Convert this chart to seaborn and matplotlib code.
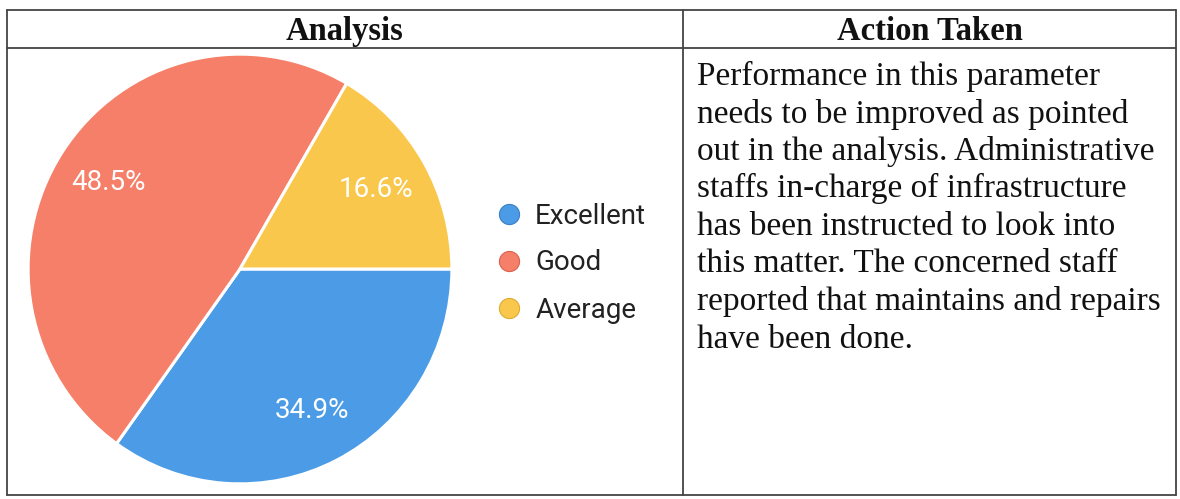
import matplotlib
matplotlib.use("Agg")
import matplotlib.pyplot as plt
import seaborn as sns
from matplotlib.lines import Line2D

# --- data ---
categories = ["Excellent", "Good", "Average"]
shares = [34.9, 48.5, 16.6]
colors = ["#4b9be6", "#f67f69", "#f9c74b"]
edge_colors = ["#3b7fc4", "#d9634f", "#dcab33"]

col_headers = ["Analysis", "Action Taken"]
action_lines = [
    "Performance in this parameter",
    "needs to be improved as pointed",
    "out in the analysis. Administrative",
    "staffs in-charge of infrastructure",
    "has been instructed to look into",
    "this matter. The concerned staff",
    "reported that maintains and repairs",
    "have been done.",
]

sns.set_theme(style="white")
plt.rcParams["font.family"] = ["Roboto", "DejaVu Sans"]

W, H = 1180, 499
fig = plt.figure(figsize=(W / 100, H / 100), dpi=100)
fig.patch.set_facecolor("white")

# overlay axes in pixel coords for the table frame and text
bg = fig.add_axes([0, 0, 1, 1])
bg.set_xlim(0, W)
bg.set_ylim(H, 0)
bg.axis("off")
bg.patch.set_alpha(0)

line_kw = dict(color="#444444", lw=1.3)
left, right, top, head, bottom, mid = 7, 1176, 10, 48, 495, 683
for y in (top, head, bottom):
    bg.plot([left, right], [y, y], **line_kw)
for x in (left, mid, right):
    bg.plot([x, x], [top, bottom], **line_kw)

serif = ["Liberation Serif", "DejaVu Serif"]
bg.text((left + mid) / 2, 31, col_headers[0], ha="center", va="center",
        fontsize=23.5, fontweight="bold", family=serif, color="#111111")
bg.text((mid + right) / 2, 31, col_headers[1], ha="center", va="center",
        fontsize=23.5, fontweight="bold", family=serif, color="#111111")

for i, line in enumerate(action_lines):
    bg.text(697, 85 + 37.5 * i, line, ha="left", va="baseline",
            fontsize=24, family=serif, color="#111111")

# pie chart
ax = fig.add_axes([26 / W, (H - 486) / H, 428 / W, 434 / H])
wedges, texts, autotexts = ax.pie(
    shares,
    colors=colors,
    startangle=0,
    counterclock=False,
    autopct="%1.1f%%",
    pctdistance=0.74,
    wedgeprops=dict(edgecolor="white", linewidth=2.2),
    textprops=dict(color="white", fontsize=20),
)
ax.set_xlim(-1.01, 1.01)
ax.set_ylim(-1.01, 1.01)
ax.set_aspect("auto")

handles = [
    Line2D([], [], marker="o", linestyle="", markersize=14.5,
           markerfacecolor=c, markeredgecolor=e, markeredgewidth=0.8)
    for c, e in zip(colors, edge_colors)
]
fig.legend(
    handles, categories,
    loc="center left",
    bbox_to_anchor=(481 / W, (H - 263) / H),
    frameon=False,
    fontsize=20,
    borderpad=0,
    handlelength=1.0,
    handletextpad=0.45,
    labelspacing=0.72,
    labelcolor="#222222",
)

fig.savefig("out.png", dpi=100, facecolor="white")
